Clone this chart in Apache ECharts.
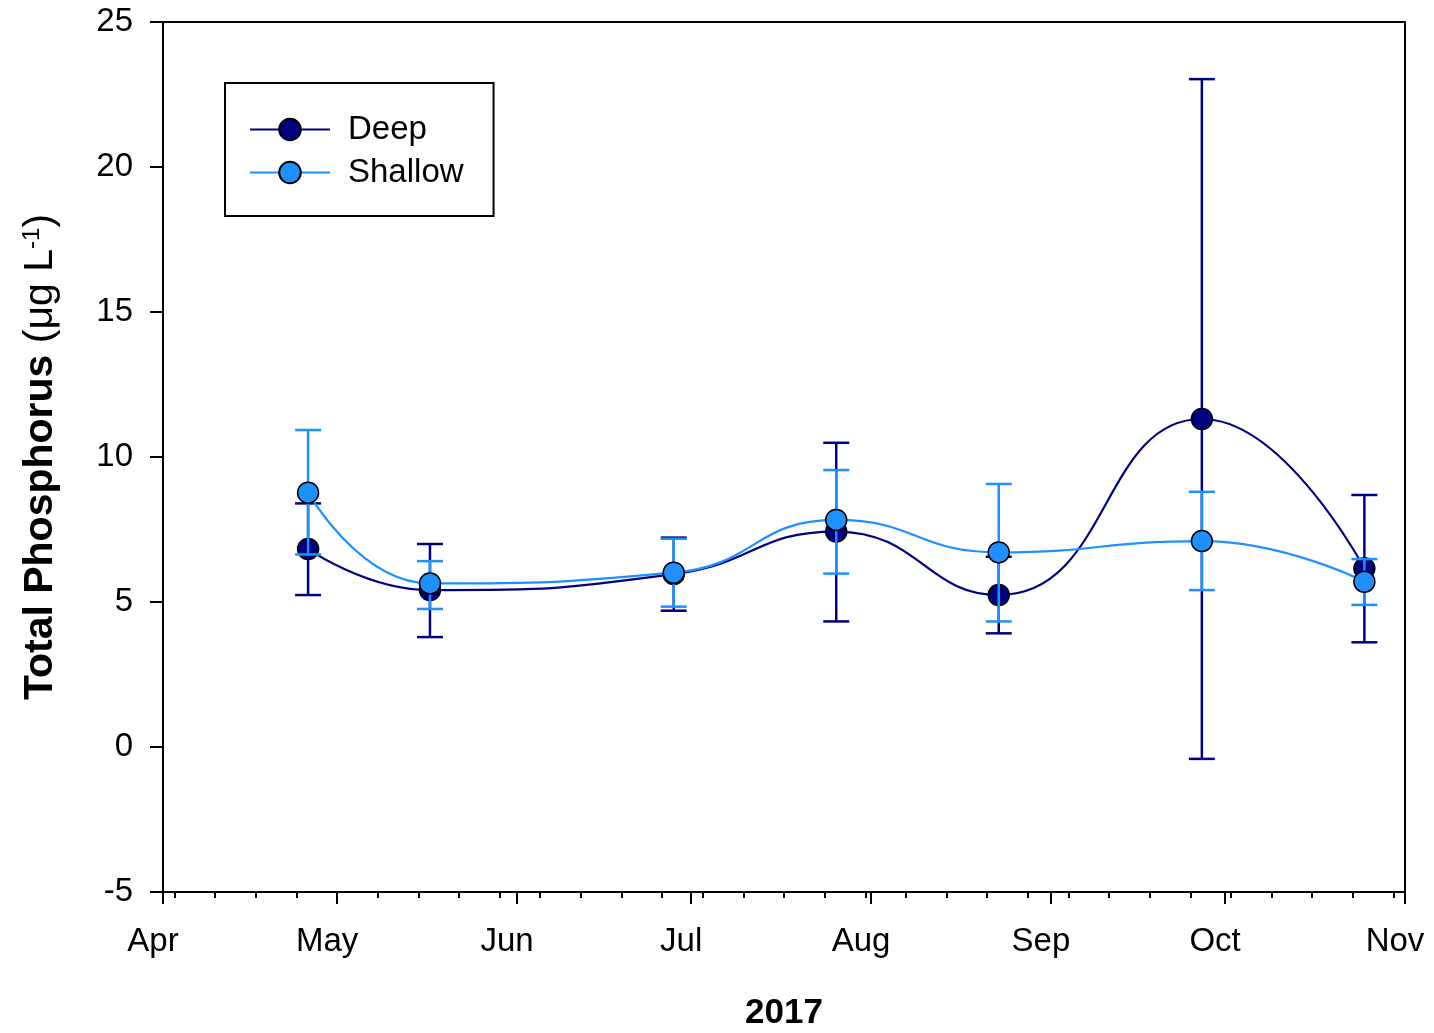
<!DOCTYPE html>
<html>
<head>
<meta charset="utf-8">
<script src="https://cdn.jsdelivr.net/npm/echarts@6/dist/echarts.min.js"></script>
<style>
  html, body { margin: 0; padding: 0; background: #fff; }
  #chart { width: 1434px; height: 1033px; }
</style>
</head>
<body>
<div id="chart"></div>
<script>
// ---- Data ----
const sampleDates = ['2017-04-26', '2017-05-17', '2017-06-28', '2017-07-26', '2017-08-23', '2017-09-27', '2017-10-25'];

const deepMean  = [6.83, 5.41, 5.96, 7.43, 5.24, 11.31, 6.16];
const deepLow   = [5.24, 3.79, 4.70, 4.33, 3.92, -0.41, 3.61];
const deepHigh  = [8.40, 7.00, 7.22, 10.49, 6.56, 23.03, 8.69];

const shallowMean = [8.77, 5.64, 6.01, 7.83, 6.71, 7.10, 5.70];
const shallowLow  = [6.64, 4.76, 4.84, 5.98, 4.33, 5.41, 4.90];
const shallowHigh = [10.93, 6.41, 7.18, 9.55, 9.07, 8.80, 6.48];

// Axis ticks / labels
const monthTicks  = ['2017-04-01', '2017-05-01', '2017-06-01', '2017-07-01', '2017-08-01', '2017-09-01', '2017-10-01', '2017-11-01'];
const monthLabels = ['Apr', 'May', 'Jun', 'Jul', 'Aug', 'Sep', 'Oct', 'Nov'];
const weekTicks = ['2017-04-03', '2017-04-10', '2017-04-17', '2017-04-24', '2017-05-01', '2017-05-08', '2017-05-15',
  '2017-05-22', '2017-05-29', '2017-06-05', '2017-06-12', '2017-06-19', '2017-06-26', '2017-07-03', '2017-07-10',
  '2017-07-17', '2017-07-24', '2017-07-31', '2017-08-07', '2017-08-14', '2017-08-21', '2017-08-28', '2017-09-04',
  '2017-09-11', '2017-09-18', '2017-09-25', '2017-10-02', '2017-10-09', '2017-10-16', '2017-10-23', '2017-10-30'];
const yMin = -5, yMax = 25, yStep = 5;

// ---- Build options ----
const ts = s => echarts.time.parse(s).getTime();
const monthTs = monthTicks.map(ts);
const weekTs = weekTicks.map(ts);
const xMin = monthTs[0], xMax = monthTs[monthTs.length - 1];

const DEEP = '#000080';
const SHALLOW = '#1E90FF';
const FONT = '"Liberation Sans", Arial, sans-serif';

function errRender(color) {
  return function (params, api) {
    const x = api.value(0), lo = api.value(1), hi = api.value(2);
    const pHi = api.coord([x, hi]);
    const pLo = api.coord([x, lo]);
    const w = 13;
    const style = { stroke: color, lineWidth: 2.5, fill: null };
    return {
      type: 'group',
      children: [
        { type: 'line', shape: { x1: pHi[0], y1: pHi[1], x2: pLo[0], y2: pLo[1] }, style: style },
        { type: 'line', shape: { x1: pHi[0] - w, y1: pHi[1], x2: pHi[0] + w, y2: pHi[1] }, style: style },
        { type: 'line', shape: { x1: pLo[0] - w, y1: pLo[1], x2: pLo[0] + w, y2: pLo[1] }, style: style }
      ]
    };
  };
}

const deepLine = sampleDates.map((d, i) => [ts(d), deepMean[i]]);
const shallowLine = sampleDates.map((d, i) => [ts(d), shallowMean[i]]);
const deepErr = sampleDates.map((d, i) => [ts(d), deepLow[i], deepHigh[i]]);
const shallowErr = sampleDates.map((d, i) => [ts(d), shallowLow[i], shallowHigh[i]]);

const chart = echarts.init(document.getElementById('chart'), null, { renderer: 'canvas' });

const option = {
  animation: false,
  backgroundColor: '#ffffff',
  textStyle: { fontFamily: FONT, color: '#000' },
  grid: {
    left: 163, right: 29, top: 22, bottom: 141,
    containLabel: false, outerBoundsMode: 'none',
    show: true, borderColor: '#000', borderWidth: 2, backgroundColor: 'transparent'
  },
  legend: {
    data: ['Deep', 'Shallow'],
    orient: 'vertical',
    left: 225, top: 83,
    padding: [30, 30, 27, 24],
    borderColor: '#000', borderWidth: 2,
    itemWidth: 80, itemHeight: 27, itemGap: 10,
    textStyle: { fontFamily: FONT, fontSize: 33, color: '#000', lineHeight: 27, padding: [0, 0, 0, 13] },
    selectedMode: false
  },
  xAxis: [
    {
      type: 'value',
      min: xMin, max: xMax,
      name: '2017', nameLocation: 'middle', nameGap: 104,
      nameTextStyle: { fontFamily: FONT, fontSize: 35, fontWeight: 'bold', color: '#000' },
      axisLine: { show: true, onZero: false, lineStyle: { color: '#000', width: 2 } },
      axisTick: { show: true, customValues: monthTs, length: 12, lineStyle: { color: '#000', width: 2 } },
      axisLabel: {
        customValues: monthTs, margin: 33, fontFamily: FONT, fontSize: 33, color: '#000',
        padding: [0, 20, 0, 0],
        formatter: function (v) {
          const idx = monthTs.indexOf(v);
          return idx >= 0 ? monthLabels[idx] : '';
        },
        showMinLabel: true, showMaxLabel: true
      },
      splitLine: { show: false }
    },
    {
      type: 'value',
      position: 'bottom',
      min: xMin, max: xMax,
      axisLine: { show: false, onZero: false },
      axisTick: { show: true, customValues: weekTs, length: 6, lineStyle: { color: '#000', width: 2 } },
      axisLabel: { show: false },
      splitLine: { show: false }
    }
  ],
  yAxis: {
    type: 'value',
    min: yMin, max: yMax, interval: yStep,
    name: '{b|Total Phosphorus}{n| (μg L}{s|-1}{n|)}',
    nameLocation: 'middle', nameGap: 102,
    nameTextStyle: {
      fontFamily: FONT, color: '#000',
      rich: {
        b: { fontFamily: FONT, fontSize: 41, fontWeight: 'bold', color: '#000', verticalAlign: 'bottom' },
        n: { fontFamily: FONT, fontSize: 41, color: '#000', verticalAlign: 'bottom' },
        s: { fontFamily: FONT, fontSize: 24, color: '#000', verticalAlign: 'top' }
      }
    },
    axisLine: { show: true, onZero: false, lineStyle: { color: '#000', width: 2 } },
    axisTick: { show: true, length: 13, lineStyle: { color: '#000', width: 2 } },
    axisLabel: { margin: 30, fontFamily: FONT, fontSize: 33, color: '#000' },
    splitLine: { show: false }
  },
  series: [
    {
      name: 'Deep error', type: 'custom', xAxisIndex: 0,
      renderItem: errRender(DEEP), data: deepErr,
      encode: { x: 0, y: [1, 2] }, z: 2, silent: true
    },
    {
      name: 'Deep', type: 'line', xAxisIndex: 0, data: deepLine,
      smooth: 0.5, symbol: 'circle', symbolSize: 21,
      lineStyle: { color: DEEP, width: 2.2 },
      itemStyle: { color: DEEP, borderColor: '#000', borderWidth: 1.5 },
      z: 3
    },
    {
      name: 'Shallow error', type: 'custom', xAxisIndex: 0,
      renderItem: errRender(SHALLOW), data: shallowErr,
      encode: { x: 0, y: [1, 2] }, z: 4, silent: true
    },
    {
      name: 'Shallow', type: 'line', xAxisIndex: 0, data: shallowLine,
      smooth: 0.5, symbol: 'circle', symbolSize: 21,
      lineStyle: { color: SHALLOW, width: 2.2 },
      itemStyle: { color: SHALLOW, borderColor: '#000', borderWidth: 1.5 },
      z: 5
    }
  ]
};

chart.setOption(option);
</script>
</body>
</html>
